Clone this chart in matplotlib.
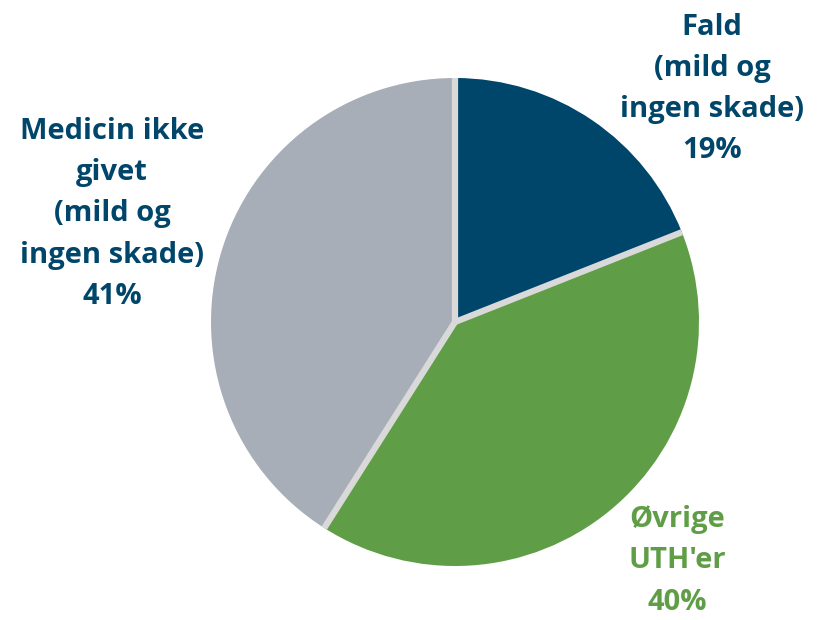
import numpy as np
import matplotlib.pyplot as plt

labels = ["Fald\n(mild og\ningen skade)\n19%",
          "Øvrige\nUTH'er\n40%",
          "Medicin ikke\ngivet\n(mild og\ningen skade)\n41%"]
values = [19, 40, 41]
colors = ['#00466A', '#5F9E46', '#A7AEB8']
text_colors = ['#00466A', '#5F9E46', '#00466A']

W, H = 817, 620
fig = plt.figure(figsize=(W / 100, H / 100), dpi=100)
ax = fig.add_axes([0, 0, 1, 1])

cx, cy, r = 455, H - 322, 244
wedges, _ = ax.pie(values, colors=colors, startangle=90, counterclock=False,
                   center=(cx, cy), radius=r,
                   wedgeprops=dict(linewidth=0))

# light gray separators between slices only (no outer outline)
for w in wedges:
    a = np.deg2rad(w.theta1)
    ax.plot([cx, cx + r * np.cos(a)], [cy, cy + r * np.sin(a)],
            color='#D9D9D9', lw=4.5, solid_capstyle='butt')

ax.set_xlim(0, W)
ax.set_ylim(0, H)
ax.set_aspect('auto')
ax.axis('off')

# label positions in pixels (x, y from top)
pos = [(712, 89), (677, 561), (112, 214)]
for lab, (px, py), c in zip(labels, pos, text_colors):
    ax.text(px, H - py, lab, ha='center', va='center', color=c,
            fontsize=21, fontweight='bold', family='Open Sans',
            linespacing=1.55)

fig.savefig('out.png', dpi=100)
